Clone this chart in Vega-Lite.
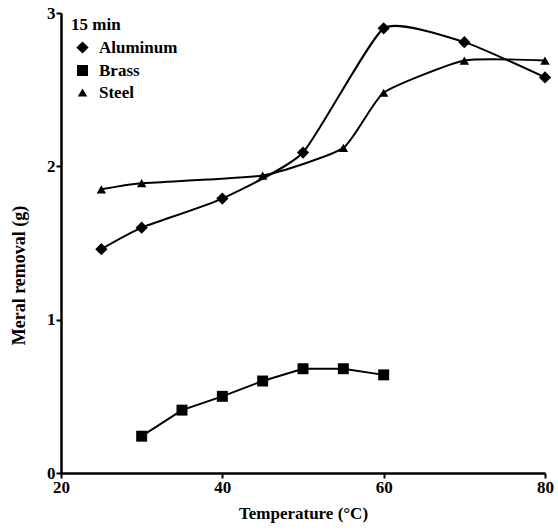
{
  "$schema": "https://vega.github.io/schema/vega-lite/v6.json",
  "autosize": {"type": "none"},
  "width": 484,
  "height": 460,
  "padding": {"left": 61, "top": 13, "right": 13, "bottom": 57},
  "background": "white",
  "config": {
    "view": {"stroke": null},
    "font": "Liberation Serif",
    "axis": {
      "grid": false,
      "domainColor": "black",
      "domainWidth": 2.5,
      "tickColor": "black",
      "tickWidth": 2,
      "tickSize": 5,
      "labelFont": "Liberation Serif",
      "labelFontWeight": "bold",
      "labelFontSize": 17,
      "labelColor": "black",
      "labelFlush": false,
      "titleFont": "Liberation Serif",
      "titleFontWeight": "bold",
      "titleFontSize": 17,
      "titleColor": "black",
      "labelPadding": 1
    },
    "legend": {
      "titleFont": "Liberation Serif",
      "titleFontWeight": "bold",
      "titleFontSize": 17,
      "titleColor": "black",
      "labelFont": "Liberation Serif",
      "labelFontWeight": "bold",
      "labelFontSize": 17,
      "labelColor": "black"
    }
  },
  "data": {
    "values": [
      {"series": "Aluminum", "temp": 25, "removal": 1.46},
      {"series": "Aluminum", "temp": 30, "removal": 1.60},
      {"series": "Aluminum", "temp": 40, "removal": 1.79},
      {"series": "Aluminum", "temp": 50, "removal": 2.09},
      {"series": "Aluminum", "temp": 60, "removal": 2.90},
      {"series": "Aluminum", "temp": 70, "removal": 2.81},
      {"series": "Aluminum", "temp": 80, "removal": 2.58},
      {"series": "Brass", "temp": 30, "removal": 0.24},
      {"series": "Brass", "temp": 35, "removal": 0.41},
      {"series": "Brass", "temp": 40, "removal": 0.50},
      {"series": "Brass", "temp": 45, "removal": 0.60},
      {"series": "Brass", "temp": 50, "removal": 0.68},
      {"series": "Brass", "temp": 55, "removal": 0.68},
      {"series": "Brass", "temp": 60, "removal": 0.64},
      {"series": "Steel", "temp": 25, "removal": 1.85},
      {"series": "Steel", "temp": 30, "removal": 1.89},
      {"series": "Steel", "temp": 45, "removal": 1.94},
      {"series": "Steel", "temp": 55, "removal": 2.12},
      {"series": "Steel", "temp": 60, "removal": 2.48},
      {"series": "Steel", "temp": 70, "removal": 2.69},
      {"series": "Steel", "temp": 80, "removal": 2.69}
    ]
  },
  "encoding": {
    "x": {
      "field": "temp", "type": "quantitative",
      "scale": {"domain": [20, 80], "nice": false, "zero": false},
      "axis": {"values": [20, 40, 60, 80], "title": "Temperature (°C)", "titlePadding": 10}
    },
    "y": {
      "field": "removal", "type": "quantitative",
      "scale": {"domain": [0, 3], "nice": false},
      "axis": {"values": [0, 1, 2, 3], "title": "Meral removal (g)", "titlePadding": 18, "titleY": 262, "titleFontSize": 18}
    }
  },
  "layer": [
    {
      "transform": [{"filter": "datum.series != 'Brass'"}],
      "mark": {"type": "line", "interpolate": "cardinal", "tension": 0.5, "color": "black", "strokeWidth": 2},
      "encoding": {"detail": {"field": "series"}}
    },
    {
      "transform": [{"filter": "datum.series == 'Brass'"}],
      "mark": {"type": "line", "color": "black", "strokeWidth": 2},
      "encoding": {"detail": {"field": "series"}}
    },
    {
      "mark": {"type": "point", "filled": true, "color": "black", "opacity": 1},
      "encoding": {
        "shape": {
          "field": "series", "type": "nominal",
          "scale": {"domain": ["Aluminum", "Brass", "Steel"], "range": ["diamond", "square", "triangle-up"]},
          "legend": {"title": "15 min", "orient": "none", "legendX": 10, "legendY": 4, "rowPadding": 4, "symbolOffset": 3, "labelOffset": 8, "titlePadding": 5}
        },
        "size": {
          "field": "series", "type": "nominal",
          "scale": {"domain": ["Aluminum", "Brass", "Steel"], "range": [150, 90, 110]},
          "legend": {"title": "15 min", "orient": "none", "legendX": 10, "legendY": 4, "rowPadding": 4, "symbolOffset": 3, "labelOffset": 8, "titlePadding": 5}
        }
      }
    }
  ]
}
